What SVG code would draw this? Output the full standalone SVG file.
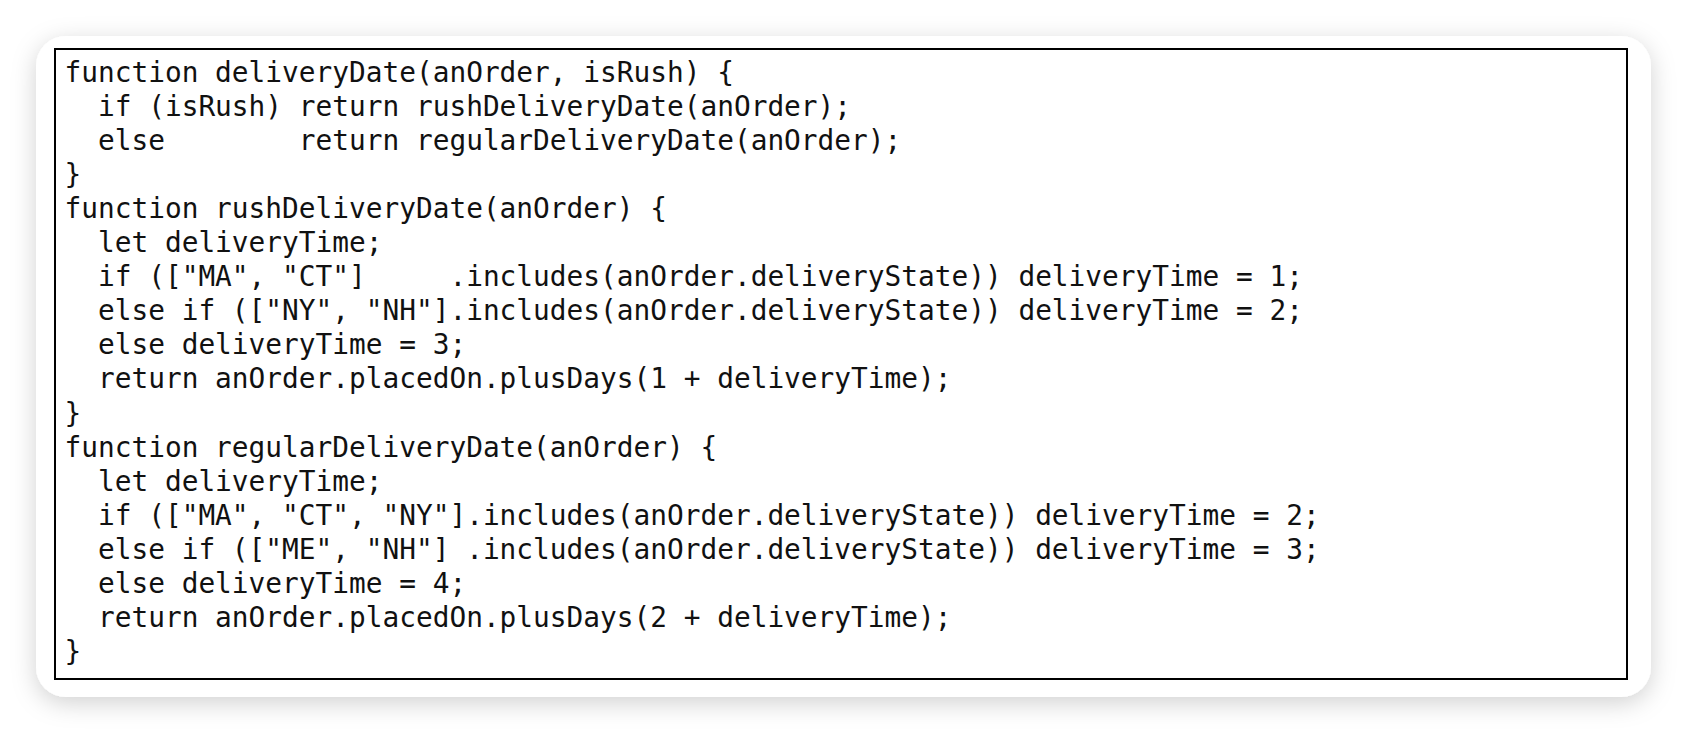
<svg xmlns="http://www.w3.org/2000/svg" width="1688" height="734" viewBox="0 0 1688 734">
  <style>
    .code { font-family: "DejaVu Sans Mono", "Liberation Mono", monospace; font-size: 27.8px; fill: #111111; white-space: pre; }
  </style>
  <defs>
    <filter id="shadow" x="-5%" y="-10%" width="110%" height="125%">
      <feDropShadow dx="0" dy="6" stdDeviation="12" flood-color="#000000" flood-opacity="0.18"/>
    </filter>
  </defs>
  <rect x="0" y="0" width="1688" height="734" fill="#ffffff"/>
  <g id="card">
    <rect x="36" y="36" width="1615" height="661" rx="30" ry="30" fill="#ffffff" filter="url(#shadow)"/>
  </g>
  <g id="codebox">
    <rect x="55" y="49" width="1572" height="630" fill="#ffffff" stroke="#000000" stroke-width="2"/>
    <text class="code" xml:space="preserve">
      <tspan x="64.5" y="81.5">function deliveryDate(anOrder, isRush) {</tspan>
      <tspan x="64.5" y="115.6">  if (isRush) return rushDeliveryDate(anOrder);</tspan>
      <tspan x="64.5" y="149.7">  else        return regularDeliveryDate(anOrder);</tspan>
      <tspan x="64.5" y="183.8">}</tspan>
      <tspan x="64.5" y="217.9">function rushDeliveryDate(anOrder) {</tspan>
      <tspan x="64.5" y="252.0">  let deliveryTime;</tspan>
      <tspan x="64.5" y="286.1">  if (["MA", "CT"]     .includes(anOrder.deliveryState)) deliveryTime = 1;</tspan>
      <tspan x="64.5" y="320.2">  else if (["NY", "NH"].includes(anOrder.deliveryState)) deliveryTime = 2;</tspan>
      <tspan x="64.5" y="354.3">  else deliveryTime = 3;</tspan>
      <tspan x="64.5" y="388.4">  return anOrder.placedOn.plusDays(1 + deliveryTime);</tspan>
      <tspan x="64.5" y="422.5">}</tspan>
      <tspan x="64.5" y="456.6">function regularDeliveryDate(anOrder) {</tspan>
      <tspan x="64.5" y="490.7">  let deliveryTime;</tspan>
      <tspan x="64.5" y="524.8">  if (["MA", "CT", "NY"].includes(anOrder.deliveryState)) deliveryTime = 2;</tspan>
      <tspan x="64.5" y="558.9">  else if (["ME", "NH"] .includes(anOrder.deliveryState)) deliveryTime = 3;</tspan>
      <tspan x="64.5" y="593.0">  else deliveryTime = 4;</tspan>
      <tspan x="64.5" y="627.1">  return anOrder.placedOn.plusDays(2 + deliveryTime);</tspan>
      <tspan x="64.5" y="661.2">}</tspan>
    </text>
  </g>
</svg>
